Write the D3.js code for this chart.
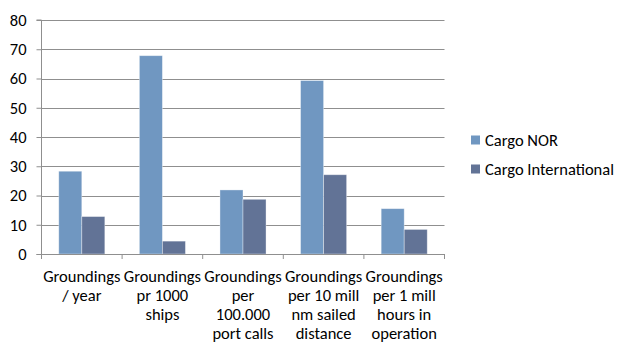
<!DOCTYPE html>
<html>
<head>
<meta charset="utf-8">
<script src="https://cdn.jsdelivr.net/npm/d3@7"></script>
<style>
  html, body { margin: 0; padding: 0; background: #fff; }
  svg { display: block; font-family: Carlito, Lato, "Open Sans", sans-serif; }
</style>
</head>
<body>
<svg id="chart" width="617" height="345"></svg>
<script>
// Category labels, each split into the lines shown under the axis
const categories = [
  ["Groundings", "/ year"],
  ["Groundings", "pr 1000", "ships"],
  ["Groundings", "per", "100.000", "port calls"],
  ["Groundings", "per 10 mill", "nm sailed", "distance"],
  ["Groundings", "per 1 mill", "hours in", "operation"]
];
const seriesNames = ["Cargo NOR", "Cargo International"];
const cargoNor = [28.3, 67.8, 21.9, 59.3, 15.5];
const cargoIntl = [12.8, 4.4, 18.7, 27.1, 8.4];
const yTicks = [0, 10, 20, 30, 40, 50, 60, 70, 80];
const colors = ["#7097c1", "#627396"];

const svg = d3.select("#chart");
const plot = { left: 41.5, right: 444.5, top: 20, bottom: 254 };
const fontSize = 16.5;

const x0 = d3.scaleBand()
  .domain(d3.range(categories.length))
  .range([plot.left, plot.right])
  .paddingInner(0).paddingOuter(0);
const bw = x0.bandwidth() / 3.5; // gap width of 150%
const y = d3.scaleLinear().domain([0, 80]).range([plot.bottom, plot.top]);

// horizontal gridlines
svg.append("g")
  .selectAll("line")
  .data(yTicks.filter(d => d > 0))
  .join("line")
  .attr("x1", plot.left).attr("x2", plot.right)
  .attr("y1", d => Math.round(y(d)) + 0.5).attr("y2", d => Math.round(y(d)) + 0.5)
  .attr("stroke", "#8f8f8f").attr("stroke-width", 1);

// bars
const series = [cargoNor, cargoIntl];
series.forEach((vals, si) => {
  svg.append("g")
    .selectAll("rect")
    .data(vals)
    .join("rect")
    .attr("x", (d, i) => x0(i) + bw * 0.75 + si * bw)
    .attr("width", bw)
    .attr("y", d => y(d))
    .attr("height", d => y(0) - y(d))
    .attr("fill", colors[si])
    .attr("stroke", "rgba(255,255,255,0.45)")
    .attr("stroke-width", 0.8);
});

// y axis
const yAxis = d3.axisLeft(y).tickValues(yTicks).tickSize(5).tickPadding(10);
const gy = svg.append("g")
  .attr("transform", `translate(${plot.left},0)`)
  .call(yAxis);
gy.select(".domain").attr("stroke", "#8f8f8f").attr("d", `M-5,${y(80)}H0V${y(0)}`);
gy.selectAll(".tick line").attr("stroke", "#8f8f8f");
gy.selectAll(".tick text")
  .attr("font-size", fontSize).attr("fill", "#000")
  .attr("font-family", "Carlito, Lato, 'Open Sans', sans-serif");

// x axis baseline and category ticks
const gx = svg.append("g");
gx.append("line")
  .attr("x1", plot.left - 5).attr("x2", plot.right)
  .attr("y1", y(0) + 0.5).attr("y2", y(0) + 0.5)
  .attr("stroke", "#8f8f8f");
gx.selectAll("line.tick")
  .data(d3.range(categories.length + 1))
  .join("line")
  .attr("class", "tick")
  .attr("x1", i => (i < categories.length ? x0(i) : plot.right))
  .attr("x2", i => (i < categories.length ? x0(i) : plot.right))
  .attr("y1", y(0)).attr("y2", y(0) + 5)
  .attr("stroke", "#8f8f8f");

// category labels
categories.forEach((lines, i) => {
  const t = svg.append("text")
    .attr("text-anchor", "middle")
    .attr("font-size", fontSize)
    .attr("fill", "#000");
  lines.forEach((ln, k) => {
    t.append("tspan")
      .attr("x", x0(i) + x0.bandwidth() / 2)
      .attr("y", 281.5 + k * 19.1)
      .text(ln);
  });
});

// legend
const lg = svg.append("g");
seriesNames.forEach((name, i) => {
  const cy = 140 + i * 29;
  lg.append("rect")
    .attr("x", 471).attr("y", cy - 4.5)
    .attr("width", 9).attr("height", 9)
    .attr("fill", colors[i]);
  lg.append("text")
    .attr("x", 485).attr("y", cy + 5.5)
    .attr("font-size", fontSize).attr("fill", "#000")
    .text(name);
});
</script>
</body>
</html>
